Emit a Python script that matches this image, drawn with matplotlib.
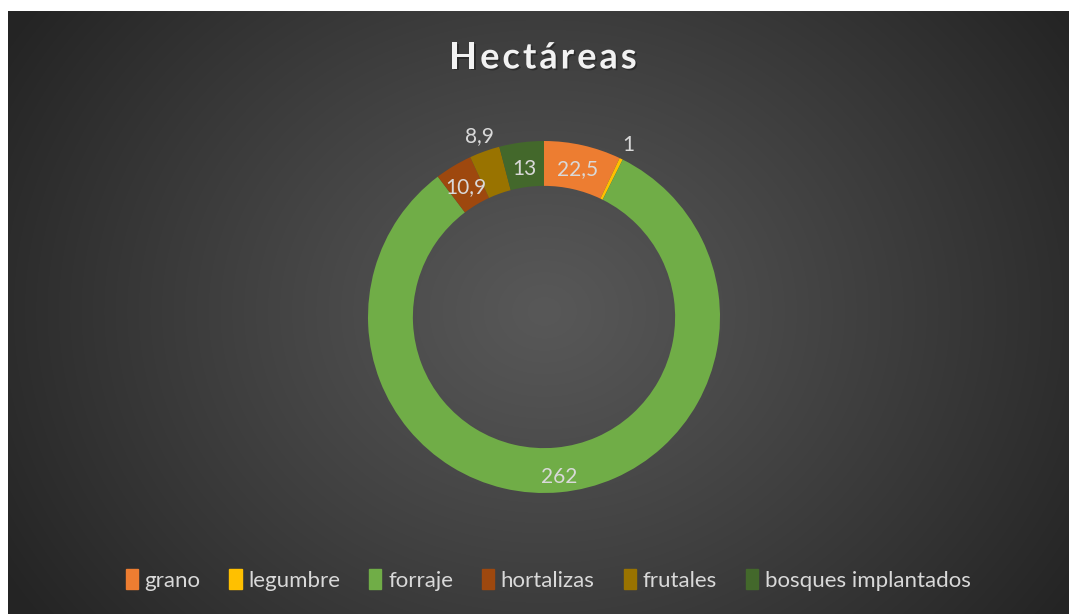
import matplotlib.pyplot as plt
import matplotlib.patheffects as pe
import numpy as np

categories = ["grano", "legumbre", "forraje", "hortalizas", "frutales", "bosques implantados"]
values = [22.5, 1, 262, 10.9, 8.9, 13]
labels = ["22,5", "1", "262", "10,9", "8,9", "13"]
colors = ["#ED7D31", "#FFC000", "#70AD47", "#9E480E", "#997300", "#43682B"]

plt.rcParams['font.family'] = ['Lato', 'DejaVu Sans']

W, H = 1071, 614
fig = plt.figure(figsize=(W / 100, H / 100), dpi=100)
fig.patch.set_facecolor("white")

# dark panel with radial gradient
bg = fig.add_axes([8 / W, 0, (1069 - 8) / W, (H - 11) / H])
bg.set_axis_off()
yy, xx = np.mgrid[0:603, 0:1061]
cx, cy = 536, 300
d = np.sqrt(((xx - cx) / 620.0) ** 2 + ((yy - cy) / 520.0) ** 2)
d = np.clip(d, 0, 1)
shade = 0.345 - (0.345 - 0.145) * d ** 1.1
img = np.dstack([shade, shade, shade])
bg.imshow(img, aspect="auto", extent=[0, 1, 0, 1], interpolation="bilinear")
bg.set_xlim(0, 1)
bg.set_ylim(0, 1)

# donut
R = 176
ccx, ccy = 544, 317
ax = fig.add_axes([(ccx - R) / W, (H - ccy - R) / H, 2 * R / W, 2 * R / H])
ax.set_axis_off()
wedges, _ = ax.pie(values, colors=colors, startangle=90, counterclock=False,
                   radius=1, wedgeprops=dict(width=0.255, linewidth=0))
ax.set_xlim(-1, 1)
ax.set_ylim(-1, 1)

total = sum(values)
label_r = [0.86, 1.09, 0.915, 0.86, 1.09, 0.85]
cum = 0
for v, lab, r in zip(values, labels, label_r):
    mid = 90 - (cum + v / 2) / total * 360
    cum += v
    a = np.radians(mid)
    ax.text(r * np.cos(a), r * np.sin(a), lab, ha="center", va="center",
            fontsize=15, color="#d9d9d9")

# title with letter spacing
title = "Hectáreas"
fig.canvas.draw()
renderer = fig.canvas.get_renderer()
tsize = 26
ws = []
for ch in title:
    t = fig.text(0, 0, ch, fontsize=tsize, fontweight="bold")
    ws.append(t.get_window_extent(renderer).width)
    t.remove()
spacing = 3.0
total_w = sum(ws) + spacing * (len(title) - 1)
x = 543 - total_w / 2
shadow = [pe.withSimplePatchShadow(offset=(1.2, -1.2), shadow_rgbFace="black", alpha=0.3)]
for ch, w in zip(title, ws):
    fig.text(x / W, 1 - 58 / H, ch, fontsize=tsize, fontweight="bold", color="#f2f2f2",
             ha="left", va="center", path_effects=shadow)
    x += w + spacing

handles = [plt.Rectangle((0, 0), 1, 1, color=c) for c in colors]
fig.legend(handles, categories, loc="center", bbox_to_anchor=(548 / W, 1 - 580 / H),
           ncol=6, frameon=False, fontsize=16, labelcolor="#d9d9d9",
           handlelength=0.55, handleheight=1.0, handletextpad=0.3, columnspacing=1.3)

fig.savefig("out.png", dpi=100)
